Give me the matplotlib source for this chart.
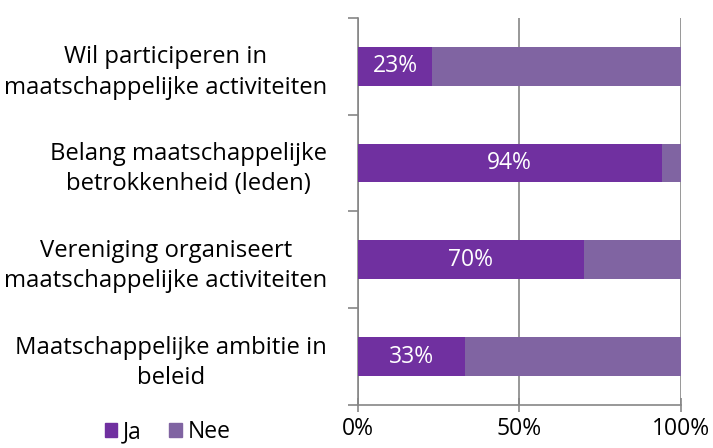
import matplotlib.pyplot as plt
from matplotlib.patches import Patch
from matplotlib.ticker import FixedLocator

plt.rcParams["font.family"] = ["Open Sans", "DejaVu Sans"]

categories = [
    "Wil participeren in\nmaatschappelijke activiteiten",
    "Belang maatschappelijke\nbetrokkenheid (leden)",
    "Vereniging organiseert\nmaatschappelijke activiteiten",
    "Maatschappelijke ambitie in\nbeleid",
]
ja = [23, 94, 70, 33]
nee = [77, 6, 30, 67]
series_names = ["Ja", "Nee"]
colors = ["#7030A0", "#8064A2"]

fs = 16.5

fig = plt.figure(figsize=(7.13, 4.48), dpi=100)
ax = fig.add_axes([0.502, 0.096, 0.453, 0.864])

pos = list(range(len(categories)))
ax.barh(pos, ja, height=0.4, color=colors[0], zorder=3)
ax.barh(pos, nee, left=ja, height=0.4, color=colors[1], zorder=3)

for y, v in zip(pos, ja):
    ax.text(v / 2, y, f"{v}%", ha="center", va="center", color="white",
            fontsize=fs, zorder=4)

ax.set_xlim(0, 100)
ax.set_ylim(len(categories) - 0.5, -0.5)
ax.set_xticks([0, 50, 100])
ax.set_xticklabels(["0%", "50%", "100%"], fontsize=fs)
ax.xaxis.grid(True, color="#868686", linewidth=1.2, zorder=0)

ax.set_yticks(pos)
ax.set_yticklabels(categories, fontsize=17.2, multialignment="center",
                   linespacing=1.35)
ax.tick_params(axis="y", length=0, pad=22)
ax.yaxis.set_minor_locator(FixedLocator([-0.5, 0.5, 1.5, 2.5, 3.5]))
ax.tick_params(axis="y", which="minor", length=7, color="#868686", width=1.2)
ax.tick_params(axis="x", direction="inout", length=10, color="#868686",
               width=1.2, pad=4)

for s in ["top", "right"]:
    ax.spines[s].set_visible(False)
for s in ["left", "bottom"]:
    ax.spines[s].set_color("#868686")
    ax.spines[s].set_linewidth(1.2)

handles = [Patch(color=c, label=n) for c, n in zip(colors, series_names)]
fig.legend(handles=handles, loc="center left", bbox_to_anchor=(0.147, 0.035),
           ncol=2, frameon=False, fontsize=fs, handlelength=0.55,
           handleheight=0.55, handletextpad=0.25, columnspacing=1.2,
           borderpad=0, borderaxespad=0)

fig.savefig("out.png", dpi=100)
